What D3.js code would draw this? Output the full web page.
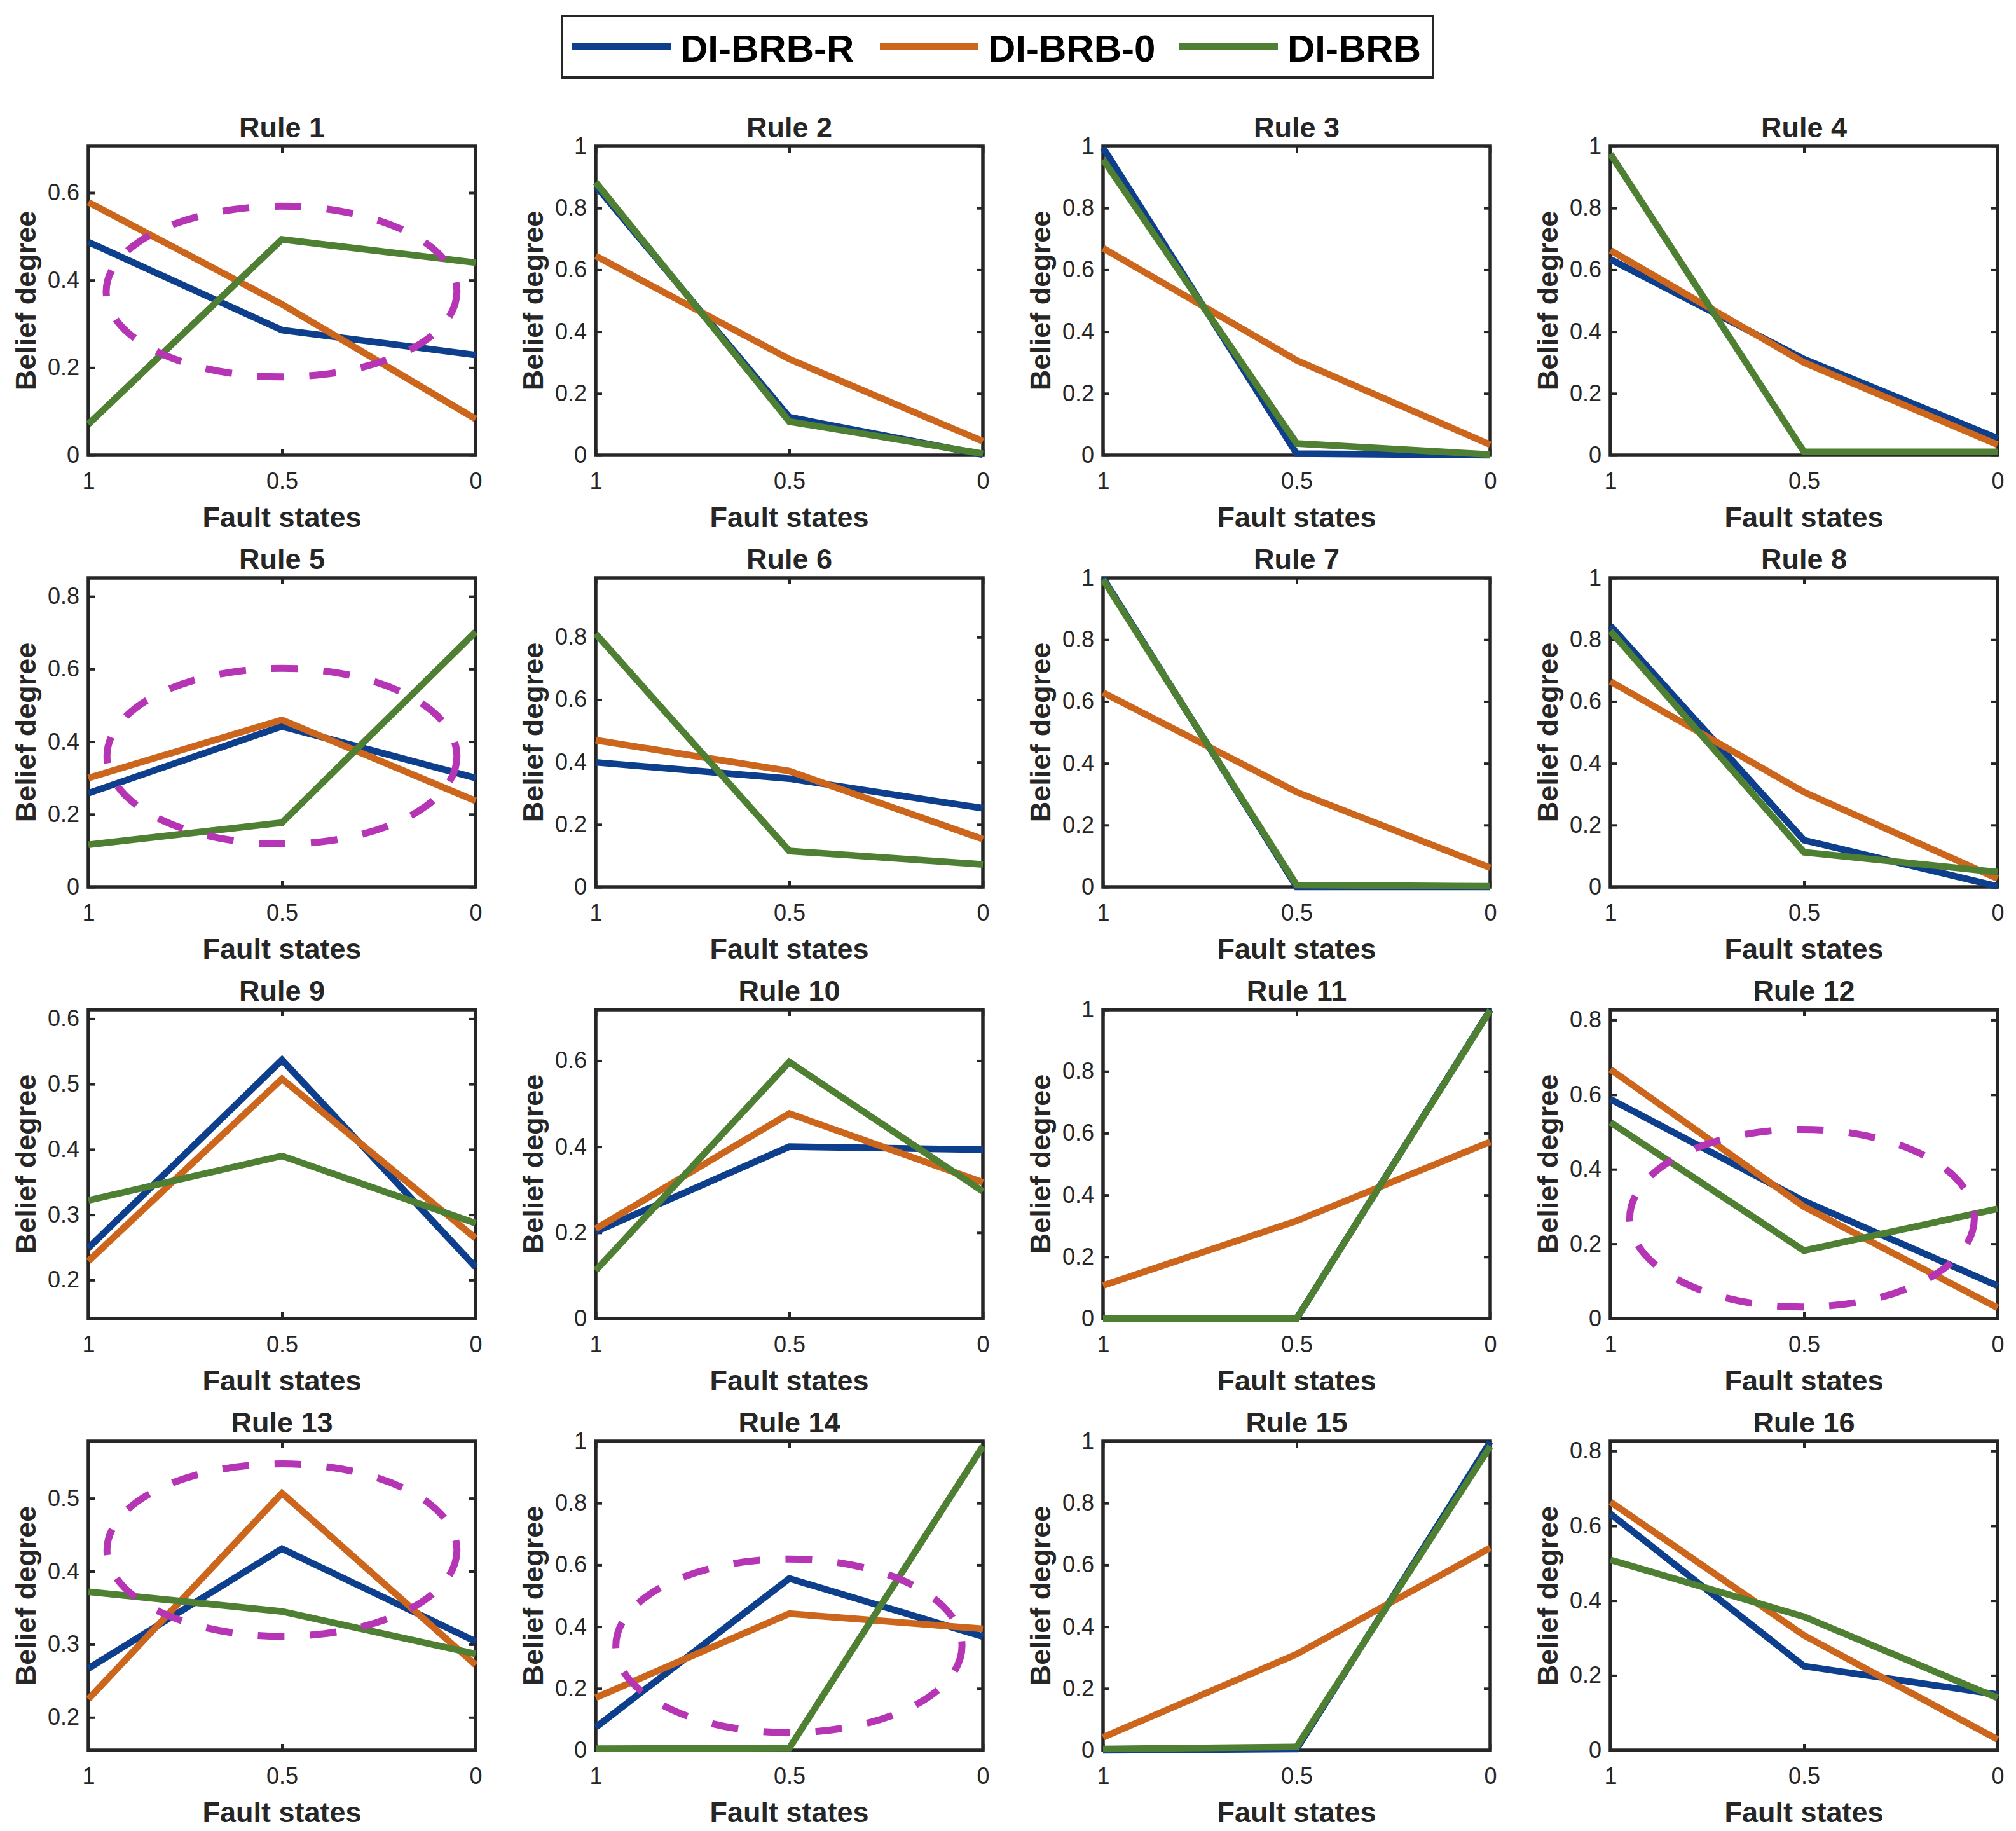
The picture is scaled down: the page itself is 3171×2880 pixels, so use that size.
<!DOCTYPE html>
<html>
<head>
<meta charset="utf-8">
<script src="https://cdn.jsdelivr.net/npm/d3@7"></script>
<style>
  body { margin: 0; background: #fff; }
  text { font-family: "Liberation Sans", Arial, Helvetica, sans-serif; }
</style>
</head>
<body>
<script>
// x positions (fault states), drawn from 1 on the left to 0 on the right
var states = [1, 0.5, 0];
var seriesNames = ["DI-BRB-R", "DI-BRB-0", "DI-BRB"];
var ruleNames = d3.range(1, 17).map(function(k) { return "Rule " + k; });

// belief degrees, one row per rule, values at states 1, 0.5, 0
var briR = [
  [0.487, 0.286, 0.229], [0.872, 0.123, 0.002], [0.995, 0.005, 0.000], [0.634, 0.311, 0.055],
  [0.258, 0.442, 0.300], [0.399, 0.347, 0.252], [1.000, 0.000, 0.000], [0.845, 0.151, 0.002],
  [0.249, 0.537, 0.220], [0.202, 0.400, 0.393], [0.000, 0.000, 1.000], [0.588, 0.315, 0.088],
  [0.267, 0.431, 0.304], [0.074, 0.556, 0.368], [0.000, 0.004, 0.998], [0.632, 0.225, 0.149]
];
var bri0 = [
  [0.578, 0.345, 0.083], [0.645, 0.311, 0.045], [0.670, 0.307, 0.034], [0.663, 0.300, 0.034],
  [0.300, 0.460, 0.237], [0.470, 0.371, 0.153], [0.629, 0.307, 0.062], [0.665, 0.307, 0.027],
  [0.229, 0.508, 0.264], [0.209, 0.477, 0.317], [0.107, 0.316, 0.572], [0.668, 0.300, 0.029],
  [0.225, 0.507, 0.272], [0.170, 0.442, 0.393], [0.042, 0.311, 0.655], [0.664, 0.307, 0.029]
];
var bri = [
  [0.071, 0.493, 0.440], [0.883, 0.109, 0.005], [0.957, 0.038, 0.002], [0.975, 0.011, 0.011],
  [0.116, 0.177, 0.702], [0.811, 0.115, 0.072], [0.995, 0.006, 0.002], [0.828, 0.112, 0.048],
  [0.322, 0.390, 0.287], [0.112, 0.597, 0.296], [0.000, 0.000, 0.998], [0.526, 0.182, 0.294],
  [0.372, 0.345, 0.287], [0.005, 0.007, 0.984], [0.004, 0.011, 0.984], [0.509, 0.357, 0.140]
];

// y limits and tick step of each rule
var yLo   = [0, 0, 0, 0, 0, 0, 0, 0, 0.141, 0, 0, 0, 0.155, 0, 0, 0];
var yHi   = [0.706, 1, 1, 1, 0.851, 0.99, 1, 1, 0.614, 0.719, 1, 0.828, 0.578, 1, 1, 0.826];
var yStep = [0.2, 0.2, 0.2, 0.2, 0.2, 0.2, 0.2, 0.2, 0.1, 0.2, 0.2, 0.2, 0.1, 0.2, 0.2, 0.2];

// dashed ellipses (data units) marking the changed rules
var ellRule = [1, 5, 12, 13, 14];
var ellCx   = [0.501, 0.5, 0.505, 0.5, 0.501];
var ellCy   = [0.374, 0.360, 0.269, 0.429, 0.338];
var ellRx   = [0.453, 0.452, 0.445, 0.452, 0.447];
var ellRy   = [0.195, 0.242, 0.238, 0.118, 0.281];

var colors = ["#0e3f8c", "#cd661d", "#4e7f33"];
var ink = "#262626";

var W = 3171, H = 2880;
var colX0 = 139, colStep = 798, plotW = 609;
var rowY0 = 230, rowStep = 679, plotH = 486;

var svg = d3.select("body").append("svg")
    .attr("width", W).attr("height", H)
    .attr("viewBox", "0 0 " + W + " " + H);

svg.append("rect").attr("width", W).attr("height", H).attr("fill", "#fff");

var fmt = d3.format("~g");

ruleNames.forEach(function(name, i) {
  var col = i % 4, row = Math.floor(i / 4);
  var g = svg.append("g")
      .attr("transform", "translate(" + (colX0 + col * colStep) + "," + (rowY0 + row * rowStep) + ")");

  var x = d3.scaleLinear().domain([1, 0]).range([0, plotW]);
  var y = d3.scaleLinear().domain([yLo[i], yHi[i]]).range([plotH, 0]);

  var st = yStep[i];
  var yt = d3.range(Math.ceil(yLo[i] / st - 1e-9), Math.floor(yHi[i] / st + 1e-9) + 1)
      .map(function(k) { return +(k * st).toFixed(2); });

  // axes, ticks pointing inwards on all four sides
  function styleAxis(a) {
    a.select(".domain").remove();
    a.selectAll(".tick line").attr("stroke", ink).attr("stroke-width", 4);
    a.selectAll(".tick text").attr("fill", ink).style("font-size", "36px");
  }
  g.append("g").attr("transform", "translate(0," + plotH + ")")
      .call(d3.axisBottom(x).tickValues(states).tickFormat(fmt).tickSizeInner(-10).tickSizeOuter(0).tickPadding(27))
      .call(styleAxis);
  g.append("g")
      .call(d3.axisTop(x).tickValues(states).tickFormat("").tickSizeInner(-10).tickSizeOuter(0))
      .call(styleAxis);
  g.append("g")
      .call(d3.axisLeft(y).tickValues(yt).tickFormat(fmt).tickSizeInner(-10).tickSizeOuter(0).tickPadding(14))
      .call(styleAxis);
  g.append("g").attr("transform", "translate(" + plotW + ",0)")
      .call(d3.axisRight(y).tickValues(yt).tickFormat("").tickSizeInner(-10).tickSizeOuter(0))
      .call(styleAxis);

  g.append("rect")
      .attr("width", plotW).attr("height", plotH)
      .attr("fill", "none").attr("stroke", ink).attr("stroke-width", 5.5);

  // series lines
  var line = d3.line()
      .x(function(d, j) { return x(states[j]); })
      .y(function(d) { return y(d); });
  [briR[i], bri0[i], bri[i]].forEach(function(vals, s) {
    g.append("path")
        .attr("d", line(vals))
        .attr("fill", "none")
        .attr("stroke", colors[s])
        .attr("stroke-width", 10.5)
        .attr("stroke-linejoin", "miter");
  });

  // dashed ellipse
  var e = ellRule.indexOf(i + 1);
  if (e >= 0) {
    g.append("ellipse")
        .attr("cx", x(ellCx[e]))
        .attr("cy", y(ellCy[e]))
        .attr("rx", Math.abs(x(ellCx[e] - ellRx[e]) - x(ellCx[e])))
        .attr("ry", Math.abs(y(ellCy[e] + ellRy[e]) - y(ellCy[e])))
        .attr("fill", "none")
        .attr("stroke", "#b535b5")
        .attr("stroke-width", 11)
        .attr("stroke-dasharray", "42,40");
  }

  // labels
  g.append("text")
      .attr("x", plotW / 2).attr("y", -14)
      .attr("text-anchor", "middle")
      .attr("fill", ink)
      .style("font-size", "45px").style("font-weight", "bold")
      .text(name);
  g.append("text")
      .attr("x", plotW / 2).attr("y", plotH + 113)
      .attr("text-anchor", "middle")
      .attr("fill", ink)
      .style("font-size", "45px").style("font-weight", "bold")
      .text("Fault states");
  g.append("text")
      .attr("transform", "translate(-99," + (plotH / 2) + ") rotate(-90)")
      .attr("dy", "0.35em")
      .attr("text-anchor", "middle")
      .attr("fill", ink)
      .style("font-size", "45px").style("font-weight", "bold")
      .text("Belief degree");
});

// legend on top
var leg = svg.append("g");
leg.append("rect")
    .attr("x", 884).attr("y", 25).attr("width", 1370).attr("height", 97)
    .attr("fill", "#fff").attr("stroke", ink).attr("stroke-width", 4);

var legX = [900, 1384, 1855];
seriesNames.forEach(function(nm, s) {
  leg.append("line")
      .attr("x1", legX[s]).attr("x2", legX[s] + 155)
      .attr("y1", 73).attr("y2", 73)
      .attr("stroke", colors[s]).attr("stroke-width", 11);
  leg.append("text")
      .attr("x", legX[s] + 170).attr("y", 97)
      .attr("fill", "#000")
      .style("font-size", "60px").style("font-weight", "bold")
      .text(nm);
});
</script>
</body>
</html>
